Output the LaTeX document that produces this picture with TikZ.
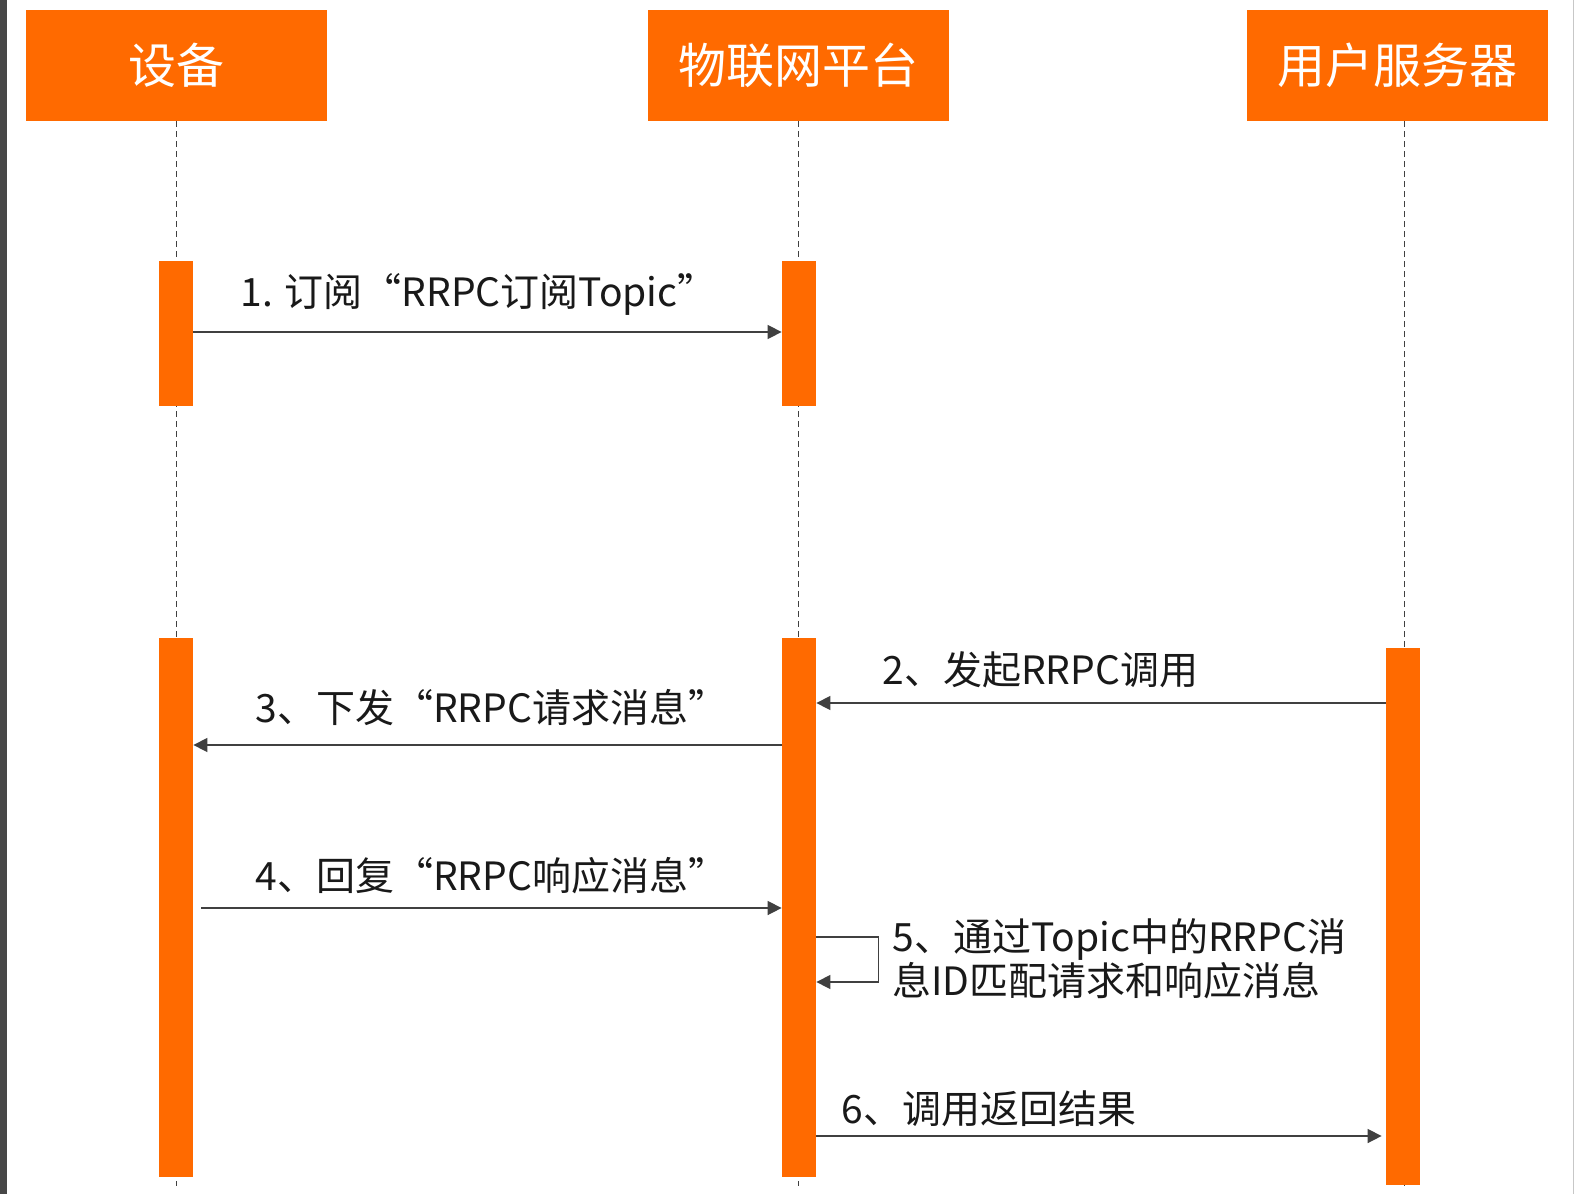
\documentclass[tikz,border=0pt]{standalone}
\usepackage{fontspec}
\setmainfont{Noto Sans CJK SC}
\usetikzlibrary{arrows.meta,fit}
\definecolor{aliorange}{HTML}{FF6A00}
\definecolor{linegray}{HTML}{404040}
\begin{document}
\begin{tikzpicture}[x=0.5pt,y=-0.5pt,
  head/.style={fill=aliorange,text=white,font=\fontsize{24}{28}\selectfont,
    minimum width=150.5pt,minimum height=55.5pt,inner sep=0pt},
  bar/.style={fill=aliorange,inner sep=0pt},
  life/.style={draw=linegray,dash pattern=on 3pt off 2pt,line width=0.5pt},
  msg/.style={draw=linegray,line width=0.75pt,-{Triangle[length=7pt,width=7pt]}},
  lbl/.style={anchor=west,inner sep=0pt,font=\fontsize{19.5}{22}\selectfont,text=black!90}]
\fill[white] (0,0) rectangle (1578,1194);
\useasboundingbox (0,0) rectangle (1578,1194);
\fill[black!72] (0,0) rectangle (7,1194);
\draw[black!22] (1573,0) -- (1573,1194);
\node[head] (dev) at (176.5,65.5) {设备};
\node[head] (plat) at (798.5,65.5) {物联网平台};
\node[head] (user) at (1397,65.5) {用户服务器};
\draw[life] (176.5,121) -- (176.5,1186);
\draw[life] (798.5,121) -- (798.5,1186);
\draw[life] (1404,121) -- (1404,1186);
\node[bar,fit={(159,261) (193,406)}] (devA) {};
\node[bar,fit={(782,261) (816,406)}] (platA) {};
\node[bar,fit={(159,638) (193,1177)}] (devB) {};
\node[bar,fit={(782,638) (816,1177)}] (platB) {};
\node[bar,fit={(1386,648) (1420,1185)}] (userB) {};
\draw[msg] (devA.east |- 0,332) -- (platA.west |- 0,332);
\node[lbl] (m1) at (240,294) {1. 订阅“RRPC订阅Topic”};
\draw[msg] (userB.west |- 0,703) -- (platB.east |- 0,703);
\node[lbl] (m2) at (882,670) {2、发起RRPC调用};
\draw[msg] (platB.west |- 0,745) -- (devB.east |- 0,745);
\node[lbl] (m3) at (255,708) {3、下发“RRPC请求消息”};
\draw[msg,shorten <=4pt] (devB.east |- 0,908) -- (platB.west |- 0,908);
\node[lbl] (m4) at (255,876) {4、回复“RRPC响应消息”};
\draw[msg] (platB.east |- 0,937) -- ++(62,0) |- (platB.east |- 0,982);
\node[lbl,align=left] (m5) at (892,958.5) {5、通过Topic中的RRPC消\\息ID匹配请求和响应消息};
\draw[msg,shorten >=2pt] (platB.east |- 0,1136) -- (userB.west |- 0,1136);
\node[lbl] (m6) at (841,1109) {6、调用返回结果};
\end{tikzpicture}
\end{document}
